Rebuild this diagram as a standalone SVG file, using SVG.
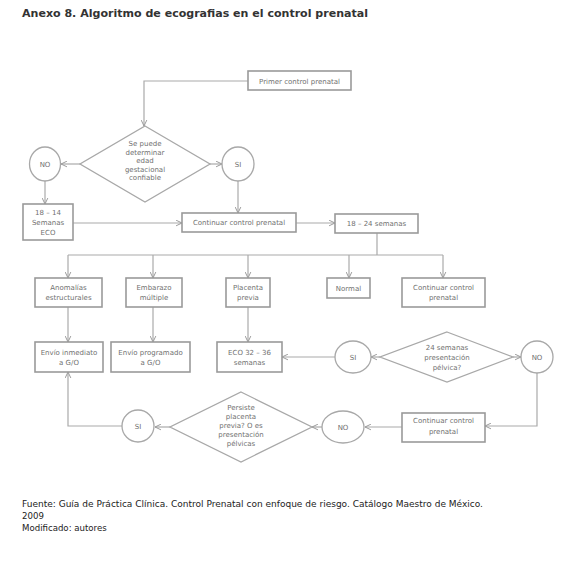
<svg xmlns="http://www.w3.org/2000/svg" width="567" height="583" viewBox="0 0 567 583">
<defs>
<marker id="ah" viewBox="0 0 10 10" refX="9.5" refY="5" markerWidth="7" markerHeight="7" markerUnits="userSpaceOnUse" orient="auto">
<path d="M1,1 L9.5,5 L1,9" fill="none" stroke="#9a9a9a" stroke-width="1.4"/>
</marker>
</defs>
<style>
.bx{fill:#fff;stroke:#9a9a9a;stroke-width:1.6}
.sh{fill:#fff;stroke:#a8a8a8;stroke-width:1.3}
.t{font-family:"DejaVu Sans","Liberation Sans",sans-serif;font-size:7px;fill:#707070;text-anchor:middle}
.c{fill:none;stroke:#aaaaaa;stroke-width:1.2}
.a{marker-end:url(#ah)}
.h{font-family:"DejaVu Sans","Liberation Sans",sans-serif;font-weight:bold;fill:#333}
.f{font-family:"DejaVu Sans","Liberation Sans",sans-serif;font-size:8.6px;fill:#222}
</style>
<rect width="567" height="583" fill="#fff"/>
<text class="h" x="22" y="17" font-size="10.5" textLength="346" lengthAdjust="spacingAndGlyphs">Anexo 8. Algoritmo de ecografias en el control prenatal</text>

<g id="connectors">
<path class="c a" d="M248,81 H144 V126"/>
<path class="c a" d="M80,164 H61"/>
<path class="c a" d="M210,164 H222"/>
<path class="c a" d="M45,181 V204"/>
<path class="c a" d="M238,181 V213"/>
<path class="c a" d="M73,223 H182"/>
<path class="c a" d="M296,223 H335"/>
<path class="c" d="M377,233 V255 M68,255 H443"/>
<path class="c a" d="M68,255 V278"/>
<path class="c a" d="M153,255 V278"/>
<path class="c a" d="M248,255 V278"/>
<path class="c a" d="M349,255 V278"/>
<path class="c a" d="M443,255 V278"/>
<path class="c a" d="M68,307 V342"/>
<path class="c a" d="M153,307 V342"/>
<path class="c a" d="M248,307 V342"/>
<path class="c a" d="M380,357 H371"/>
<path class="c a" d="M335,357 H282"/>
<path class="c a" d="M513,357 H521"/>
<path class="c a" d="M537,373 V426 H485"/>
<path class="c a" d="M402,427 H365"/>
<path class="c a" d="M322,427 H312"/>
<path class="c a" d="M170,427 H155"/>
<path class="c a" d="M122,426 H68 V372"/>
</g>

<g id="n-primer"><rect class="bx" x="248" y="71" width="103" height="19"/><text class="t" x="299.5" y="83.5">Primer control prenatal</text></g>

<g id="n-d1"><polygon class="sh" points="145,126 210,164 145,202 80,164"/>
<text class="t" x="145" y="146">Se puede</text><text class="t" x="145" y="154.5">determinar</text><text class="t" x="145" y="163">edad</text><text class="t" x="145" y="171.5">gestacional</text><text class="t" x="145" y="180">confiable</text></g>

<g id="n-no1"><ellipse class="sh" cx="45" cy="164" rx="15.5" ry="17"/><text class="t" x="45" y="166.5">NO</text></g>
<g id="n-si1"><ellipse class="sh" cx="238" cy="164" rx="16" ry="17"/><text class="t" x="238" y="166.5">SI</text></g>

<g id="n-1814"><rect class="bx" x="23" y="204" width="50" height="36"/>
<text class="t" x="48" y="215">18 – 14</text><text class="t" x="48" y="225">Semanas</text><text class="t" x="48" y="235">ECO</text></g>

<g id="n-cont1"><rect class="bx" x="182" y="213" width="114" height="19"/><text class="t" x="239" y="225">Continuar control prenatal</text></g>
<g id="n-1824"><rect class="bx" x="335" y="214" width="83" height="19"/><text class="t" x="376.5" y="226">18 – 24 semanas</text></g>

<g id="n-anom"><rect class="bx" x="35" y="278" width="67" height="29"/><text class="t" x="68.5" y="289.5">Anomalías</text><text class="t" x="68.5" y="300">estructurales</text></g>
<g id="n-emb"><rect class="bx" x="126" y="278" width="56" height="29"/><text class="t" x="154" y="289.5">Embarazo</text><text class="t" x="154" y="300">múltiple</text></g>
<g id="n-plac"><rect class="bx" x="226" y="278" width="44" height="29"/><text class="t" x="248" y="289.5">Placenta</text><text class="t" x="248" y="300">previa</text></g>
<g id="n-normal"><rect class="bx" x="327" y="278" width="43" height="20"/><text class="t" x="348.5" y="290.5">Normal</text></g>
<g id="n-cont2"><rect class="bx" x="402" y="278" width="83" height="29"/><text class="t" x="443.5" y="289.5">Continuar control</text><text class="t" x="443.5" y="300">prenatal</text></g>

<g id="n-envinm"><rect class="bx" x="35" y="342" width="68" height="30"/><text class="t" x="69" y="354.5">Envío inmediato</text><text class="t" x="69" y="364.5">a G/O</text></g>
<g id="n-envprog"><rect class="bx" x="111" y="342" width="79" height="30"/><text class="t" x="150.5" y="354.5">Envío programado</text><text class="t" x="150.5" y="364.5">a G/O</text></g>
<g id="n-eco"><rect class="bx" x="217" y="342" width="65" height="30"/><text class="t" x="249.5" y="354.5">ECO 32 – 36</text><text class="t" x="249.5" y="364.5">semanas</text></g>

<g id="n-si2"><ellipse class="sh" cx="353" cy="357" rx="18" ry="16"/><text class="t" x="353" y="359.5">SI</text></g>
<g id="n-d2"><polygon class="sh" points="447,332 513,357 447,382 380,357"/>
<text class="t" x="447" y="350">24 semanas</text><text class="t" x="447" y="360">presentación</text><text class="t" x="447" y="370">pélvica?</text></g>
<g id="n-no2"><ellipse class="sh" cx="537" cy="357" rx="16" ry="16"/><text class="t" x="537" y="359.5">NO</text></g>

<g id="n-cont3"><rect class="bx" x="402" y="413" width="83" height="29"/><text class="t" x="443.5" y="422.5">Continuar control</text><text class="t" x="443.5" y="433.5">prenatal</text></g>
<g id="n-no3"><ellipse class="sh" cx="343" cy="427" rx="21" ry="16"/><text class="t" x="343" y="429.5">NO</text></g>

<g id="n-d3"><polygon class="sh" points="241,392 312,427 241,462 170,427"/>
<text class="t" x="241" y="409.5">Persiste</text><text class="t" x="241" y="418.5">placenta</text><text class="t" x="241" y="427.5">previa? O es</text><text class="t" x="241" y="436.5">presentación</text><text class="t" x="241" y="445.5">pélvicas</text></g>

<g id="n-si3"><ellipse class="sh" cx="138" cy="426" rx="16" ry="16"/><text class="t" x="138" y="428.5">SI</text></g>

<text class="f" x="22" y="507" textLength="461" lengthAdjust="spacingAndGlyphs">Fuente: Guía de Práctica Clínica. Control Prenatal con enfoque de riesgo. Catálogo Maestro de México.</text>
<text class="f" x="22" y="519">2009</text>
<text class="f" x="22" y="531">Modificado: autores</text>
</svg>
